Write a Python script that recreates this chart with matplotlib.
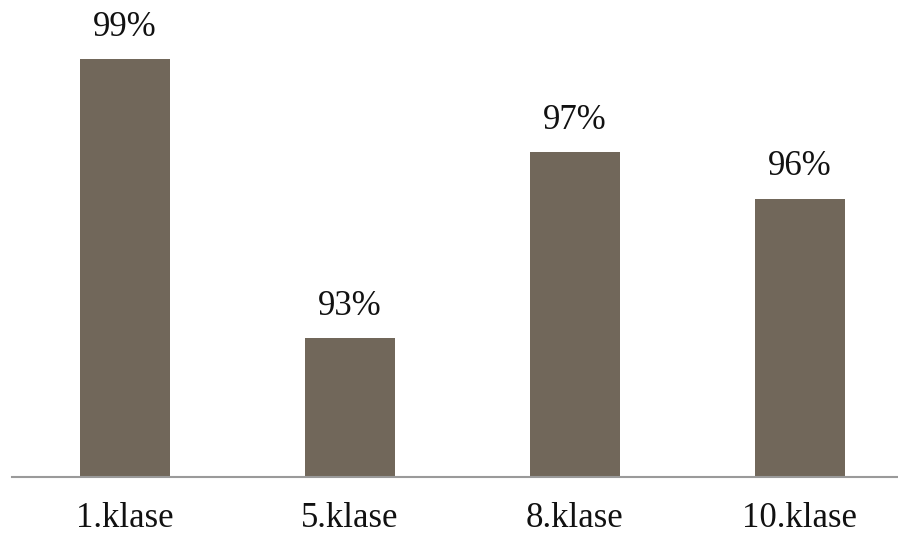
import matplotlib.pyplot as plt

categories = ['1.klase', '5.klase', '8.klase', '10.klase']
values = [99, 93, 97, 96]
labels = ['99%', '93%', '97%', '96%']

plt.rcParams['font.family'] = ['Liberation Serif', 'DejaVu Serif']

fig = plt.figure(figsize=(8.98, 5.38), dpi=100)
ax = fig.add_axes([12 / 898, 1 - 477 / 538, 1 - 12 / 898, 477 / 538])

x = range(len(categories))
bars = ax.bar(x, values, width=0.4, color='#71675a', zorder=2)

for xi, v, lab in zip(x, values, labels):
    ax.annotate(lab, (xi, v), xytext=(0, 11), textcoords='offset points',
                ha='center', va='bottom', fontsize=25, color='#111111')

ax.set_ylim(90, 100.28)
ax.set_xlim(-0.5, 3.436)
ax.set_xticks(list(x))
ax.set_xticklabels(categories, fontsize=25, color='#111111')
ax.tick_params(axis='x', length=0, pad=18)
ax.set_yticks([])
for side in ['top', 'right', 'left']:
    ax.spines[side].set_visible(False)
ax.spines['bottom'].set_color('#9a9a9a')
ax.spines['bottom'].set_linewidth(1.5)

fig.savefig('out.png', dpi=100)
